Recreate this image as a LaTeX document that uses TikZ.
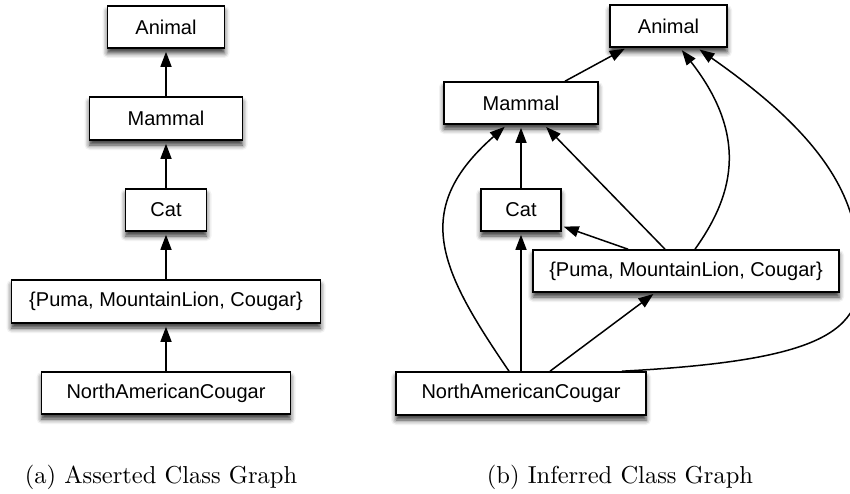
\documentclass[tikz,border=0pt]{standalone}
\usepackage{fontspec}
\setmainfont{Liberation Sans}
\newfontfamily\capfont{lmroman10-regular}[Extension=.otf]
\usetikzlibrary{arrows.meta,calc,shadows.blur}
\begin{document}
\begin{tikzpicture}[x=1pt,y=-1pt,
  cls/.style={draw=black, line width=1.6pt, fill=white, inner sep=0pt,
    minimum height=42pt, font=\fontsize{20}{24}\selectfont,
    blur shadow={shadow xshift=0pt, shadow yshift=-5pt, shadow blur radius=5pt, shadow opacity=80}},
  isa/.style={line width=1.5pt, -{Triangle[length=15pt,width=11pt]}, shorten >=3pt},
  captext/.style={font=\capfont\fontsize{24.5}{28}\selectfont, anchor=base}]
\useasboundingbox (0,0) rectangle (850,494);
% (a) asserted
\node[cls, minimum width=117pt] (A1) at (166,27) {Animal};
\node[cls, minimum width=153pt, minimum height=43pt] (M1) at (166,118.5) {Mammal};
\node[cls, minimum width=81pt] (C1) at (166,210) {Cat};
\node[cls, minimum width=309pt, minimum height=43pt] (P1) at (166,301.5) {\{Puma, MountainLion, Cougar\}};
\node[cls, minimum width=249pt] (N1) at (166,393) {NorthAmericanCougar};
\draw[isa] (M1.north) -- (A1.south);
\draw[isa] (C1.north) -- (M1.south);
\draw[isa] (P1.north) -- (C1.south);
\draw[isa] (N1.north) -- (P1.south);
\node[captext] (capa) at (161,483) {(a) Asserted Class Graph};
% (b) inferred
\node[cls, minimum width=117pt] (A2) at (668.5,26) {Animal};
\node[cls, minimum width=154pt] (M2) at (521,103) {Mammal};
\node[cls, minimum width=80pt] (C2) at (521,210) {Cat};
\node[cls, minimum width=306pt] (P2) at (686,271) {\{Puma, MountainLion, Cougar\}};
\node[cls, minimum width=250pt, minimum height=43pt] (N2) at (521,393.5) {NorthAmericanCougar};
\draw[isa, shorten >=2pt] ($(M2.north)+(44,0)$) -- ($(A2.south)+(-42,0)$);
\draw[isa] (C2.north) -- (M2.south);
\draw[isa] ($(N2.north)+(-12,0)$) .. controls (440,270) and (410,210) .. ($(M2.south)+(-14,0)$);
\draw[isa] (N2.north) -- (C2.south);
\draw[isa, shorten >=2pt] ($(N2.north)+(29,0)$) -- ($(P2.south)+(-31,0)$);
\draw[isa] ($(N2.north)+(101,0)$) .. controls (830,360) and (870,330) .. (858,255)
  .. controls (855,180) and (800,120) .. ($(A2.south)+(28.5,0)$);
\draw[isa, shorten >=2pt] ($(P2.north)+(-58,0)$) -- ($(C2.east)+(0,16)$);
\draw[isa] ($(P2.north)+(-21,0)$) -- ($(M2.south)+(23,0)$);
\draw[isa] ($(P2.north)+(9,0)$) .. controls (730,200) and (752,140) .. ($(A2.south)+(11.5,0)$);
\node[captext] (capb) at (620,483) {(b) Inferred Class Graph};
\end{tikzpicture}
\end{document}
